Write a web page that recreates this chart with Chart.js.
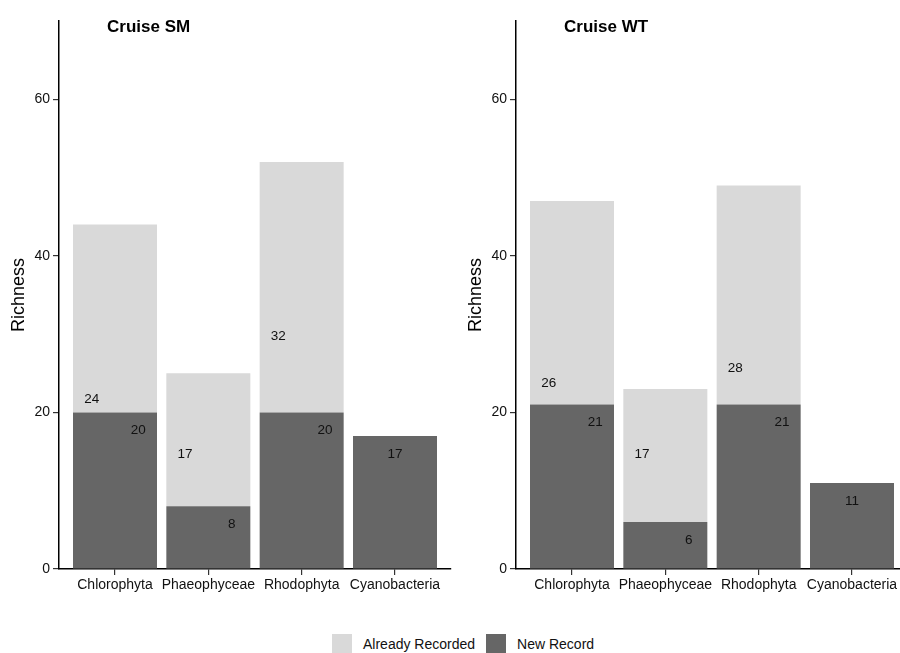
<!DOCTYPE html>
<html>
<head>
<meta charset="utf-8">
<title>Richness by cruise</title>
<script src="https://cdn.jsdelivr.net/npm/chart.js@4.4.1/dist/chart.umd.min.js"></script>
<style>
    html, body { margin: 0; padding: 0; background: #fff; }
    #wrap {
        position: relative;
        width: 900px;
        height: 653px;
        overflow: hidden;
        font-family: "Liberation Sans", Arial, sans-serif;
    }
    .panel { position: absolute; top: 0; width: 460px; height: 610px; }
    #panelSM { left: 0; }
    #panelWT { left: 457px; }
    .legend {
        position: absolute;
        left: 332px;
        top: 634px;
        display: flex;
        align-items: center;
        font-size: 14px;
        color: #111;
    }
    .key { width: 20px; height: 20px; margin-right: 11px; }
    .key--old { background: #d9d9d9; }
    .key--new { background: #666666; margin-left: 11px; }
</style>
</head>
<body>
<div id="wrap">
    <canvas id="panelSM" class="panel" width="460" height="610"></canvas>
    <canvas id="panelWT" class="panel" width="460" height="610"></canvas>
    <div class="legend">
        <span class="key key--old"></span><span>Already Recorded</span>
        <span class="key key--new"></span><span>New Record</span>
    </div>
</div>
<script>
// ---- data ----
const categories = ['Chlorophyta', 'Phaeophyceae', 'Rhodophyta', 'Cyanobacteria'];
const smNew      = [20, 8, 20, 17];
const smAlready  = [24, 17, 32, 0];
const wtNew      = [21, 6, 21, 11];
const wtAlready  = [26, 17, 28, 0];
const yTicks     = [0, 20, 40, 60];
const yMax       = 70;

const NEW_COLOR = '#666666';
const OLD_COLOR = '#d9d9d9';

Chart.defaults.font.family = '"Liberation Sans", Arial, sans-serif';
Chart.defaults.color = '#111';

// ---- value labels (dodged left/right when both groups exist) ----
const barLabels = {
    id: 'barLabels',
    afterDatasetsDraw(chart) {
        const { ctx, scales: { x, y } } = chart;
        const [newVals, oldVals] = chart.data.datasets.map(d => d.data.map(p => p.y));
        ctx.save();
        ctx.font = '13.5px "Liberation Sans", Arial, sans-serif';
        ctx.fillStyle = '#111';
        ctx.textAlign = 'center';
        ctx.textBaseline = 'middle';
        categories.forEach((c, i) => {
            const both = newVals[i] > 0 && oldVals[i] > 0;
            [[oldVals[i], -0.25], [newVals[i], 0.25]].forEach(([v, dx]) => {
                if (!v) return;
                ctx.fillText(String(v),
                    x.getPixelForValue(i + 1 + (both ? dx : 0)),
                    y.getPixelForValue(v - 2.3));
            });
        });
        ctx.restore();
    }
};

// ---- panel title, offset from the y axis like the original ----
const panelTitle = {
    id: 'panelTitle',
    afterDraw(chart, args, opts) {
        const { ctx, chartArea } = chart;
        ctx.save();
        ctx.font = 'bold 17px "Liberation Sans", Arial, sans-serif';
        ctx.fillStyle = '#000';
        ctx.textBaseline = 'alphabetic';
        ctx.fillText(opts.text, chartArea.left + 48, 32);
        ctx.restore();
    }
};

function makePanel(id, title, newVals, oldVals) {
    const toPoints = vals => vals.map((v, i) => ({ x: i + 1, y: v }));
    new Chart(document.getElementById(id), {
        type: 'bar',
        data: {
            datasets: [
                { label: 'New Record', data: toPoints(newVals), backgroundColor: NEW_COLOR, stack: 'r' },
                { label: 'Already Recorded', data: toPoints(oldVals), backgroundColor: OLD_COLOR, stack: 'r' },
            ]
        },
        plugins: [barLabels, panelTitle],
        options: {
            responsive: false,
            animation: false,
            layout: { padding: { top: 21, right: 9, left: 0, bottom: 0 } },
            datasets: { bar: { barPercentage: 0.9, categoryPercentage: 1.0, borderWidth: 0 } },
            plugins: {
                legend: { display: false },
                tooltip: { enabled: false },
                panelTitle: { text: title },
            },
            scales: {
                x: {
                    type: 'linear',
                    bounds: 'data',
                    offset: false,
                    min: 0.4,
                    max: 4.6,
                    afterBuildTicks: s => { s.ticks = categories.map((c, i) => ({ value: i + 1 })); },
                    afterFit: s => { s.height = 41; },
                    ticks: {
                        callback: v => categories[v - 1],
                        padding: 2,
                        autoSkip: false,
                        maxRotation: 0,
                        font: { size: 14 },
                        color: '#111',
                    },
                    grid: { offset: false, drawOnChartArea: false, tickLength: 6, color: '#333', lineWidth: 1.2 },
                    border: { color: '#000', width: 1.5 },
                },
                y: {
                    stacked: true,
                    min: 0,
                    max: yMax,
                    afterBuildTicks: s => { s.ticks = yTicks.map(v => ({ value: v })); },
                    afterFit: s => { s.width = 59; },
                    ticks: { padding: 3, font: { size: 14 }, color: '#111' },
                    grid: { drawOnChartArea: false, tickLength: 6, color: '#333', lineWidth: 1.2 },
                    border: { color: '#000', width: 1.5 },
                    title: {
                        display: true,
                        text: 'Richness',
                        font: { size: 18 },
                        color: '#000',
                        padding: { top: 8, bottom: 0 },
                    },
                }
            }
        }
    });
}

makePanel('panelSM', 'Cruise SM', smNew, smAlready);
makePanel('panelWT', 'Cruise WT', wtNew, wtAlready);
</script>
</body>
</html>
